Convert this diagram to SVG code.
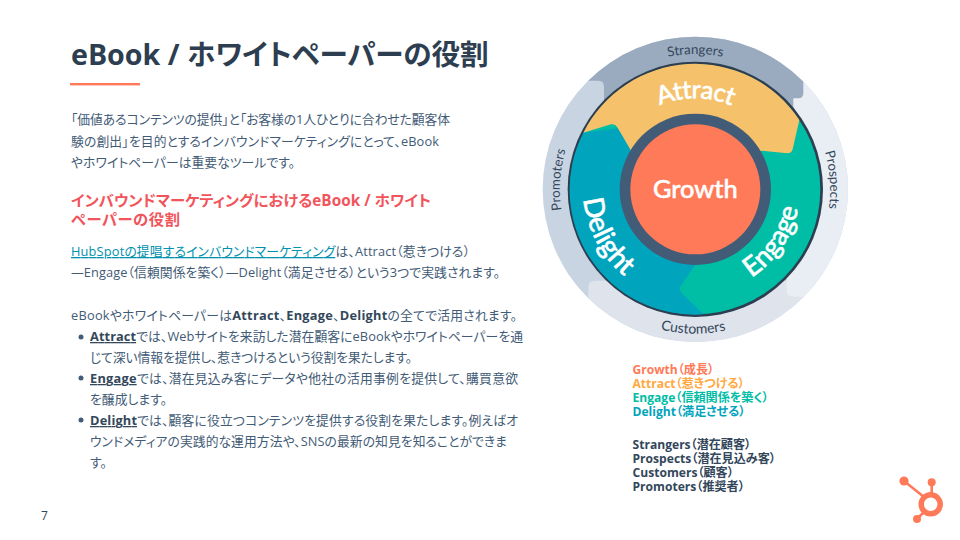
<svg xmlns="http://www.w3.org/2000/svg" width="960" height="540" viewBox="0 0 960 540">
<style>
text{font-family:"Open Sans","Noto Sans CJK JP",sans-serif;font-feature-settings:"palt"}
.b{font-size:12.8px;fill:#425b76}
.s{font-weight:700;fill:#33475b}
.u{text-decoration:underline}
.h{font-size:15.3px;font-weight:700;fill:#f2545b}
.l{font-size:12.1px;font-weight:700}
.o{font-family:Lato,sans-serif;font-size:40px;fill:#33475b;text-anchor:middle}
.w{font-family:Lato,sans-serif;font-size:84px;font-weight:500;fill:#fff;stroke:#fff;stroke-width:1.5;text-anchor:middle}
.logo{fill:#ff7a59}
.logoL{stroke:#ff7a59;stroke-width:2.6;fill:none}
</style>
<defs>
<clipPath id="outerClip"><circle cx="496" cy="508" r="458"/></clipPath>
<path id="pAttract" d="M223 508A273 273 0 0 1 769 508"/>
<path id="pStrangers" d="M90 508A406 406 0 0 1 902 508"/>
<path id="pCustomers" d="M63 508A433 433 0 0 0 929 508"/>
<path id="pProspects" d="M467.6 102A407 407 0 0 1 524.4 914"/>
<path id="pPromoters" d="M467.5 915A408 408 0 0 1 524.5 101"/>
<path id="pDelight" d="M335.6 206A342 342 0 0 0 656.4 810"/>
<path id="pEngage" d="M314 777A325 325 0 0 0 678 239"/>
</defs>
<rect width="960" height="540" fill="#fff"/>
<g id="title">
<text x="71" y="65" style="font-size:28.6px;font-weight:700;fill:#2d3e50">eBook / ホワイトペーパーの役割</text>
<rect x="70" y="83" width="70" height="2.4" fill="#ff7a59"/>
</g>
<g id="body">
<text class="b" x="71" y="124" textLength="379">「価値あるコンテンツの提供」と「お客様の1人ひとりに合わせた顧客体</text>
<text class="b" x="71" y="146" textLength="368">験の創出」を目的とするインバウンドマーケティングにとって、eBook</text>
<text class="b" x="71" y="167" textLength="224">やホワイトペーパーは重要なツールです。</text>
<text class="h" x="71" y="206" textLength="360">インバウンドマーケティングにおけるeBook / ホワイト</text>
<text class="h" x="71" y="225" textLength="109">ペーパーの役割</text>
<text class="b" x="71" y="256" textLength="399"><tspan class="u" style="fill:#0091ae">HubSpotの提唱するインバウンドマーケティング</tspan>は、Attract（惹きつける）</text>
<text class="b" x="71" y="277" textLength="429">—Engage（信頼関係を築く）—Delight（満足させる）という3つで実践されます。</text>
<text class="b" x="71" y="320" textLength="446">eBookやホワイトペーパーは<tspan class="s">Attract</tspan>、<tspan class="s">Engage</tspan>、<tspan class="s">Delight</tspan>の全てで活用されます。</text>
<circle cx="81" cy="337" r="2.5" fill="#425b76"/>
<text class="b" x="90" y="341" textLength="433"><tspan class="s u">Attract</tspan>では、Webサイトを来訪した潜在顧客にeBookやホワイトペーパーを通</text>
<text class="b" x="90" y="362" textLength="322">じて深い情報を提供し、惹きつけるという役割を果たします。</text>
<circle cx="81" cy="378" r="2.5" fill="#425b76"/>
<text class="b" x="90" y="383" textLength="428"><tspan class="s u">Engage</tspan>では、潜在見込み客にデータや他社の活用事例を提供して、購買意欲</text>
<text class="b" x="90" y="404" textLength="77">を醸成します。</text>
<circle cx="81" cy="420" r="2.5" fill="#425b76"/>
<text class="b" x="90" y="425" textLength="428"><tspan class="s u">Delight</tspan>では、顧客に役立つコンテンツを提供する役割を果たします。例えばオ</text>
<text class="b" x="90" y="446" textLength="417">ウンドメディアの実践的な運用方法や、SNSの最新の知見を知ることができま</text>
<text class="b" x="90" y="467">す。</text>
</g>
<g id="flywheel" transform="translate(530 20) scale(.33333)">
<g id="outer-ring" clip-path="url(#outerClip)">
<rect id="promoters" x="0" y="0" width="1000" height="1000" fill="#c9d4e2"/>
<path id="customers" d="M175 1000V802Q175 782 195 782H820V1000Z" fill="#dee3ec"/>
<path id="prospects" d="M700 0H1000V830H790Q770 830 770 810V0Z" fill="#e9eef5"/>
<path id="strangers" d="M100 182H205Q222 182 222 200V300H790V235H805Q820 235 820 220V0H100Z" fill="#9aabc0"/>
</g>
<text class="o"><textPath href="#pStrangers" startOffset="50%">Strangers</textPath></text>
<text class="o"><textPath href="#pProspects" startOffset="50%">Prospects</textPath></text>
<text class="o" style="font-size:42px"><textPath href="#pCustomers" startOffset="49.5%">Customers</textPath></text>
<text class="o"><textPath href="#pPromoters" startOffset="50%">Promoters</textPath></text>
<circle cx="496" cy="508" r="383" fill="#2d3e50"/>
<g id="engage">
<circle cx="496" cy="508" r="375" fill="#00bda5"/>
<text class="w" style="font-size:81px"><textPath href="#pEngage" startOffset="50%">Engage</textPath></text>
</g>
<g id="delight">
<path d="M496 508L495 735L452 798Q446 808 455 820L520 883A375 375 0 0 1 160 338L300 320Z" fill="#00a4bd"/>
<text class="w"><textPath href="#pDelight" startOffset="50%">Delight</textPath></text>
</g>
<g id="attract">
<path d="M496 508L305 395L262 322Q255 310 243 313L160 338A375 375 0 0 1 808 300L788 388Q785 400 772 400L695 392Z" fill="#f5c26b"/>
<text class="w" style="font-size:76px;letter-spacing:-2px"><textPath href="#pAttract" startOffset="50%">Attract</textPath></text>
</g>
<g id="growth">
<circle cx="496" cy="508" r="227" fill="#425b76"/>
<circle cx="496" cy="508" r="195" fill="#ff7a59"/>
<text x="496" y="533" class="w" style="font-size:76px">Growth</text>
</g>
</g>
<g id="legend">
<text class="l" x="632.5" y="374" style="fill:#ff7a59">Growth（成長）</text>
<text class="l" x="632.5" y="388" style="fill:#ffa940">Attract（惹きつける）</text>
<text class="l" x="632.5" y="402" style="fill:#00bda5">Engage（信頼関係を築く）</text>
<text class="l" x="632.5" y="416" style="fill:#00a4bd">Delight（満足させる）</text>
<text class="l" x="632.5" y="449" style="fill:#33475b">Strangers（潜在顧客）</text>
<text class="l" x="632.5" y="463" style="fill:#33475b">Prospects（潜在見込み客）</text>
<text class="l" x="632.5" y="477" style="fill:#33475b">Customers（顧客）</text>
<text class="l" x="632.5" y="491" style="fill:#33475b">Promoters（推奨者）</text>
</g>
<g id="hubspot-logo">
<path class="logoL" d="M904 481L924 497M931.7 482V494M917 519L925 511"/>
<circle cx="904" cy="481" r="4.6" class="logo"/>
<circle cx="931.7" cy="482.3" r="4" class="logo"/>
<circle cx="917" cy="519" r="4" class="logo"/>
<circle cx="930.7" cy="504.3" r="9.5" fill="none" stroke="#ff7a59" stroke-width="5.5"/>
</g>
<text id="page-number" x="41" y="520" style="font-size:12px;fill:#33475b">7</text>
</svg>
